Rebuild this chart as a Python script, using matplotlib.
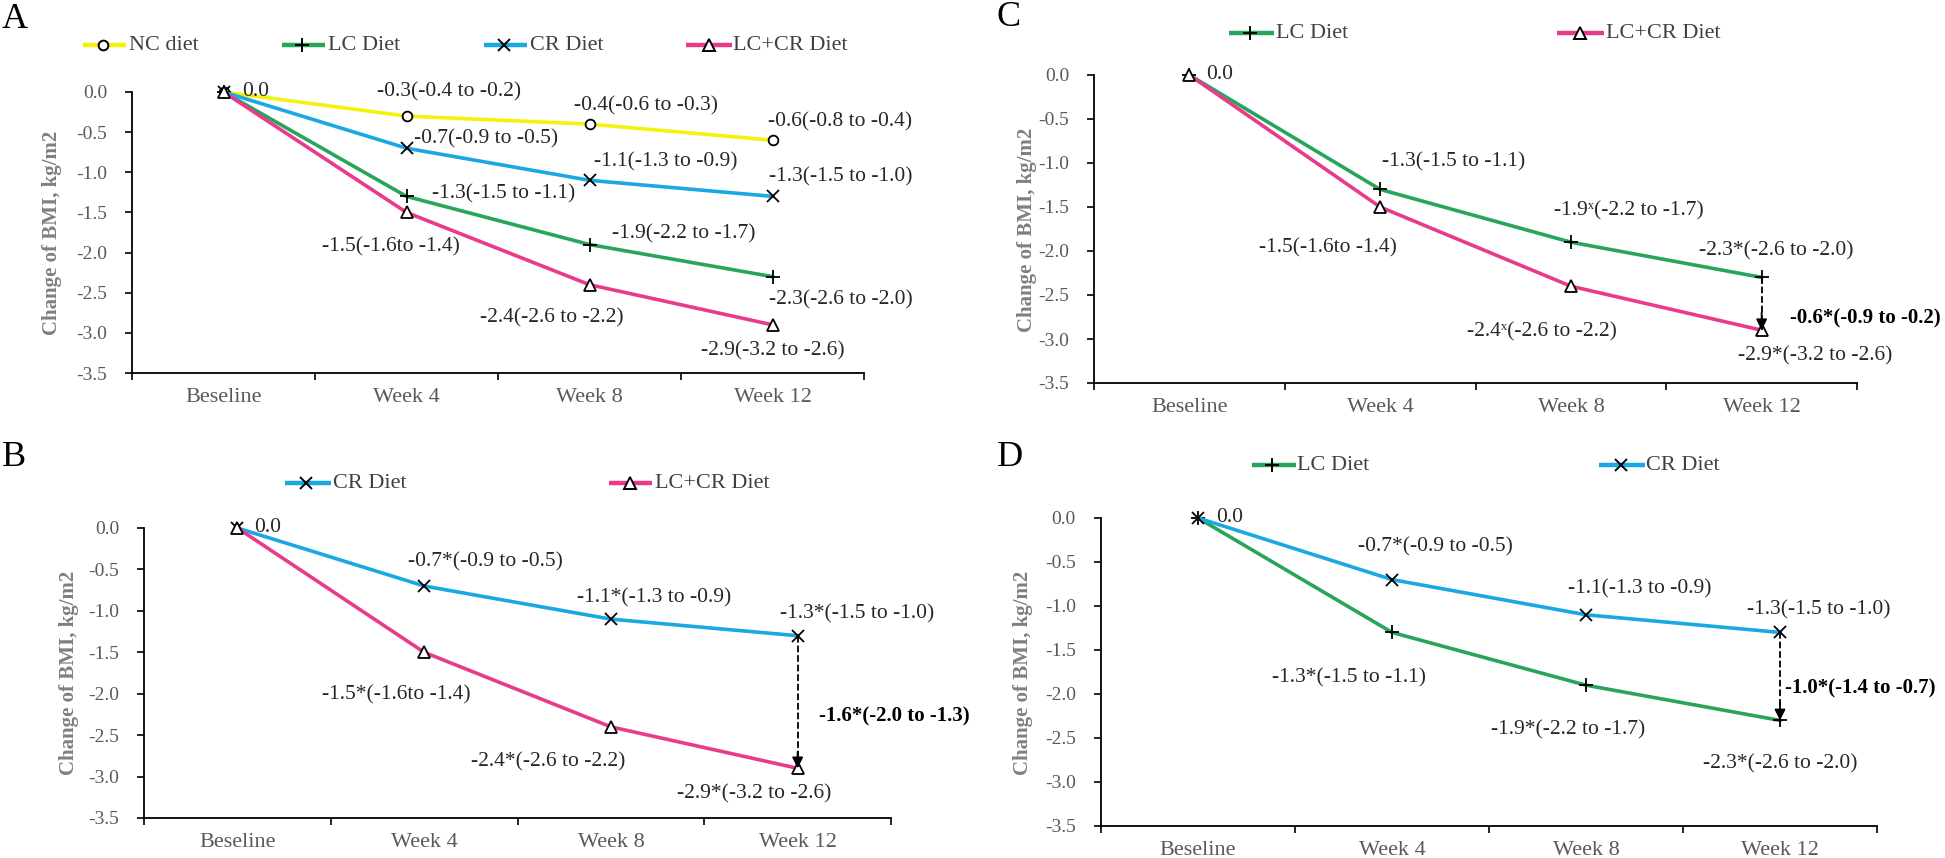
import matplotlib
matplotlib.use("Agg")
import matplotlib.pyplot as plt
from matplotlib.lines import Line2D

# ---- data ----
weeks = ["Beseline", "Week 4", "Week 8", "Week 12"]
yticks = [0.0, -0.5, -1.0, -1.5, -2.0, -2.5, -3.0, -3.5]

nc = [0.0, -0.3, -0.4, -0.6]
lc = [0.0, -1.3, -1.9, -2.3]
cr = [0.0, -0.7, -1.1, -1.3]
lccr = [0.0, -1.5, -2.4, -2.9]

labels_a = {
    "NC": ["-0.3(-0.4 to -0.2)", "-0.4(-0.6 to -0.3)", "-0.6(-0.8 to -0.4)"],
    "LC": ["-1.3(-1.5 to -1.1)", "-1.9(-2.2 to -1.7)", "-2.3(-2.6 to -2.0)"],
    "CR": ["-0.7(-0.9 to -0.5)", "-1.1(-1.3 to -0.9)", "-1.3(-1.5 to -1.0)"],
    "LCCR": ["-1.5(-1.6to -1.4)", "-2.4(-2.6 to -2.2)", "-2.9(-3.2 to -2.6)"],
}
labels_b = {
    "CR": ["-0.7*(-0.9 to -0.5)", "-1.1*(-1.3 to -0.9)", "-1.3*(-1.5 to -1.0)"],
    "LCCR": ["-1.5*(-1.6to -1.4)", "-2.4*(-2.6 to -2.2)", "-2.9*(-3.2 to -2.6)"],
}
labels_c = {
    "LC": ["-1.3(-1.5 to -1.1)", "-1.9\u02e3(-2.2 to -1.7)", "-2.3*(-2.6 to -2.0)"],
    "LCCR": ["-1.5(-1.6to -1.4)", "-2.4\u02e3(-2.6 to -2.2)", "-2.9*(-3.2 to -2.6)"],
}
labels_d = {
    "LC": ["-1.3*(-1.5 to -1.1)", "-1.9*(-2.2 to -1.7)", "-2.3*(-2.6 to -2.0)"],
    "CR": ["-0.7*(-0.9 to -0.5)", "-1.1(-1.3 to -0.9)", "-1.3(-1.5 to -1.0)"],
}
diff_b = "-1.6*(-2.0 to -1.3)"
diff_c = "-0.6*(-0.9 to -0.2)"
diff_d = "-1.0*(-1.4 to -0.7)"

values = {"NC": nc, "LC": lc, "CR": cr, "LCCR": lccr}

# ---- style / layout ----
W, H = 1945, 858
plt.rcParams['font.family'] = ['Liberation Serif', 'DejaVu Serif']

styles = {
    "NC": dict(color='#F4F10C', marker='o', ms=7, name='NC diet'),
    "LC": dict(color='#28A55A', marker='+', ms=10, name='LC Diet'),
    "CR": dict(color='#1AA8E2', marker='x', ms=8, name='CR Diet'),
    "LCCR": dict(color='#EA3A8C', marker='^', ms=8, name='LC+CR Diet'),
}

fig = plt.figure(figsize=(W / 100, H / 100), dpi=100)


def fx(x):
    return x / W


def fy(y):
    return 1 - y / H


def legend_key(key, x0, x1, xm, xt, y):
    st = styles[key]
    fig.add_artist(Line2D([fx(x0), fx(x1)], [fy(y), fy(y)], transform=fig.transFigure,
                          color=st["color"], lw=3.2, solid_capstyle='butt'))
    fig.add_artist(Line2D([fx(xm)], [fy(y)], transform=fig.transFigure, marker=st["marker"],
                          ms=st["ms"], mec='black', mfc='white', mew=1.4, lw=0))
    fig.text(fx(xt), fy(y), st["name"], fontsize=16, color='#404040', va='center', ha='left')


def draw_panel(box, keys, labels, offsets, zero_dx, letter, letter_xy, ylab_xy,
               arrow=None, diff=None, diff_off=None):
    l, t, r, b = box
    ax = fig.add_axes([fx(l), fy(b), fx(r - l), (b - t) / H])
    x = list(range(len(weeks)))
    for k in keys:
        st = styles[k]
        ax.plot(x, values[k], color=st["color"], lw=2.6, marker=st["marker"], ms=st["ms"],
                mec='black', mfc='white', mew=1.3, clip_on=False, zorder=3)
        for i in range(1, 4):
            ax.annotate(labels[k][i - 1], (i, values[k][i]), xytext=offsets[k][i - 1],
                        textcoords='offset pixels', ha='center', va='center',
                        fontsize=15.5, color='#262626')
    ax.annotate("0.0", (0, 0), xytext=(zero_dx, 0), textcoords='offset pixels',
                ha='left', va='center', fontsize=15.5, color='#262626')
    if arrow:
        hi, lo = values[arrow[0]][3], values[arrow[1]][3]
        ax.plot([3, 3], [hi, lo], ls='--', color='black', lw=1.3, zorder=4, clip_on=False)
        ax.annotate("", xy=(3, lo), xytext=(3, lo + 0.2),
                    arrowprops=dict(arrowstyle='-|>', color='black', lw=1.3,
                                    mutation_scale=16, shrinkA=0, shrinkB=0), zorder=5)
        ax.annotate(diff, (3, lo), xytext=diff_off, textcoords='offset pixels',
                    ha='left', va='center', fontsize=15, fontweight='bold', color='black')

    ax.set_xlim(-0.5, 3.5)
    ax.set_ylim(-3.5, 0)
    ax.set_yticks(yticks)
    ax.set_yticklabels(["%.1f" % v for v in yticks])
    ax.set_xticks([-0.5, 0.5, 1.5, 2.5, 3.5])
    ax.set_xticklabels([])
    ax.set_xticks(x, minor=True)
    ax.set_xticklabels(weeks, minor=True)
    ax.tick_params(axis='x', which='minor', length=0, pad=11, labelsize=16, labelcolor='#595959')
    ax.tick_params(axis='x', which='major', length=5, width=1.2, direction='out')
    ax.tick_params(axis='y', length=5, width=1.2, pad=13, labelsize=14, labelcolor='#595959')
    for s in ['top', 'right']:
        ax.spines[s].set_visible(False)
    for s in ['left', 'bottom']:
        ax.spines[s].set_linewidth(1.3)
    ax.patch.set_alpha(0)

    fig.text(fx(letter_xy[0]), fy(letter_xy[1]), letter, fontsize=26, ha='center', va='center')
    fig.text(fx(ylab_xy[0]), fy(ylab_xy[1]), "Change of BMI, kg/m2", rotation=90,
             fontsize=15, fontweight='bold', color='#7F7F7F', ha='center', va='center')
    return ax


# panel A
draw_panel((132, 92, 864, 373), ["NC", "LC", "CR", "LCCR"], labels_a,
           {"NC": [(43, 24), (56, 18), (68, 18)],
            "CR": [(80, 9), (76, 18), (68, 20)],
            "LC": [(97, 3), (94, 11), (68, -23)],
            "LCCR": [(-16, -34), (-38, -33), (0, -26)]},
           19, "A", (15, 20), (52, 233))
legend_key("NC", 83, 126, 103, 129, 45)
legend_key("LC", 282, 325, 302, 328, 45)
legend_key("CR", 484, 527, 504, 530, 45)
legend_key("LCCR", 686, 732, 709, 733, 45)

# panel B
draw_panel((144, 528, 891, 818), ["CR", "LCCR"], labels_b,
           {"CR": [(61, 24), (43, 21), (59, 22)],
            "LCCR": [(-28, -43), (-63, -35), (-43, -26)]},
           17, "B", (14, 458), (69, 673),
           arrow=("CR", "LCCR"), diff=diff_b, diff_off=(21, 52))
legend_key("CR", 285, 331, 306, 333, 483)
legend_key("LCCR", 609, 652, 630, 655, 483)

# panel C
draw_panel((1094, 75, 1857, 383), ["LC", "LCCR"], labels_c,
           {"LC": [(74, 28), (58, 31), (15, 27)],
            "LCCR": [(-52, -41), (-29, -46), (54, -26)]},
           17, "C", (1009, 17), (1027, 230),
           arrow=("LC", "LCCR"), diff=diff_c, diff_off=(28, 12))
legend_key("LC", 1229, 1274, 1250, 1276, 33)
legend_key("LCCR", 1557, 1604, 1580, 1606, 33)

# panel D
draw_panel((1101, 518, 1877, 826), ["LC", "CR"], labels_d,
           {"CR": [(43, 33), (54, 26), (39, 23)],
            "LC": [(-43, -45), (-18, -45), (0, -43)]},
           18, "D", (1010, 458), (1023, 673),
           arrow=("CR", "LC"), diff=diff_d, diff_off=(5, 32))
legend_key("LC", 1252, 1296, 1272, 1297, 465)
legend_key("CR", 1599, 1645, 1621, 1646, 465)

fig.savefig("out.png", dpi=100, facecolor='white')
